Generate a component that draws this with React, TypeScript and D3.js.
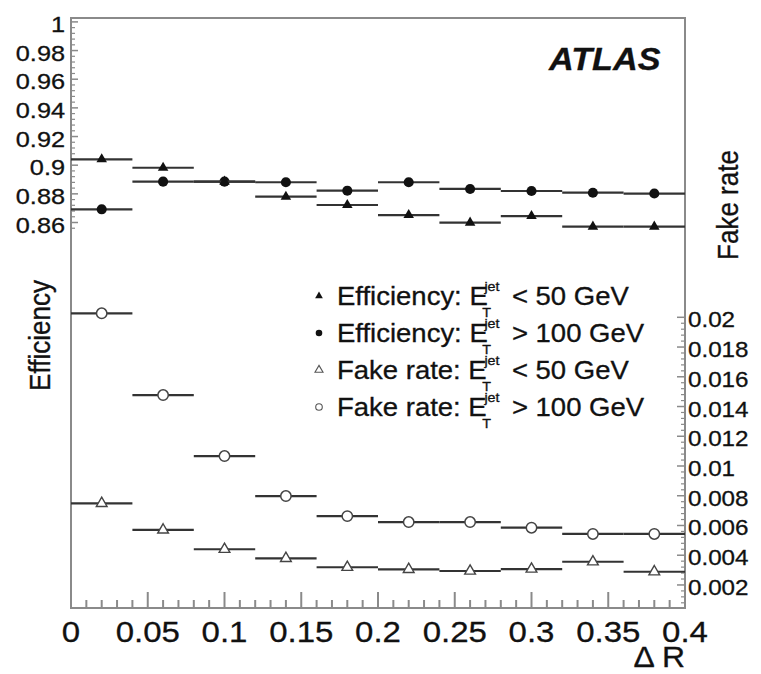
import React from 'react';
import * as d3 from 'd3';

// ---- data ----
const binCenters = [0.02, 0.06, 0.1, 0.14, 0.18, 0.22, 0.26, 0.3, 0.34, 0.38];
const binHalfWidth = 0.02;
const effLowEt = [0.9041, 0.8982, 0.8885, 0.878, 0.8722, 0.8652, 0.8599, 0.8645, 0.8571, 0.8571];
const effHighEt = [0.8692, 0.8885, 0.8885, 0.8881, 0.8822, 0.8881, 0.8834, 0.882, 0.8808, 0.8802];
const fakeLowEt = [0.00749, 0.0057, 0.0044, 0.00379, 0.00319, 0.00305, 0.00294, 0.00307, 0.00356, 0.00289];
const fakeHighEt = [0.02027, 0.01477, 0.01067, 0.00798, 0.00663, 0.00623, 0.00623, 0.00585, 0.00543, 0.00543];

const xTicks = [0, 0.05, 0.1, 0.15, 0.2, 0.25, 0.3, 0.35, 0.4];
const xTickLabels = ['0', '0.05', '0.1', '0.15', '0.2', '0.25', '0.3', '0.35', '0.4'];
const effTicks = [0.86, 0.88, 0.9, 0.92, 0.94, 0.96, 0.98, 1];
const effTickLabels = ['0.86', '0.88', '0.9', '0.92', '0.94', '0.96', '0.98', '1'];
const fakeTicks = [0.002, 0.004, 0.006, 0.008, 0.01, 0.012, 0.014, 0.016, 0.018, 0.02];
const fakeTickLabels = ['0.002', '0.004', '0.006', '0.008', '0.01', '0.012', '0.014', '0.016', '0.018', '0.02'];

const legendLabels = ['Efficiency: E', 'Efficiency: E', 'Fake rate: E', 'Fake rate: E'];
const legendTails = ['< 50 GeV', '> 100 GeV', '< 50 GeV', '> 100 GeV'];

// ---- layout ----
const W = 761, H = 674;
const L = 71, R = 685, T = 18, B = 608;
const FONT = "'Liberation Sans', Arial, Helvetica, sans-serif";
const AX = '#8a8a8a';
const BAR = '#333';

const x = d3.scaleLinear().domain([0, 0.4]).range([L, R]);
const yEff = d3.scaleLinear().domain([0.86, 1.0]).range([222.5, 21.9]);
const yFake = d3.scaleLinear().domain([0, 0.02]).range([614.7, 317.3]);

const tri = (area: number) => d3.symbol().type(d3.symbolTriangle).size(area)() as string;
const circ = (area: number) => d3.symbol().type(d3.symbolCircle).size(area)() as string;

function Txt(props: { x: number; y: number; size: number; anchor?: string; sx?: number; rot?: number; weight?: string; italic?: boolean; children: React.ReactNode }) {
  const { x: px, y: py, size, anchor = 'start', sx = 1.1, rot = 0, weight = 'normal', italic = false, children } = props;
  return (
    <g transform={`translate(${px},${py}) scale(${sx},1) rotate(${rot})`}>
      <text x={0} y={0} fontFamily={FONT} fontSize={size} textAnchor={anchor} fontWeight={weight} fontStyle={italic ? 'italic' : 'normal'} fill="#111" stroke="#111" strokeWidth={0.3}>
        {children}
      </text>
    </g>
  );
}

function Series(props: { vals: number[]; y: (v: number) => number; kind: 'ftri' | 'fcirc' | 'otri' | 'ocirc' }) {
  const { vals, y, kind } = props;
  return (
    <g>
      {vals.map((v, i) => {
        const cx = x(binCenters[i]);
        const cy = y(v);
        const x0 = x(binCenters[i] - binHalfWidth);
        const x1 = x(binCenters[i] + binHalfWidth);
        let mark: React.ReactNode;
        if (kind === 'ftri') mark = <path d={tri(48)} transform={`translate(${cx},${cy})`} fill="#111" />;
        else if (kind === 'fcirc') mark = <path d={circ(80)} transform={`translate(${cx},${cy})`} fill="#111" />;
        else if (kind === 'otri') mark = <path d={tri(50)} transform={`translate(${cx},${cy})`} fill="#fff" stroke="#444" strokeWidth={1.4} />;
        else mark = <path d={circ(85)} transform={`translate(${cx},${cy})`} fill="#fff" stroke="#444" strokeWidth={1.5} />;
        return (
          <g key={i}>
            <line x1={x0} x2={x1} y1={cy} y2={cy} stroke={BAR} strokeWidth={2.2} />
            {mark}
          </g>
        );
      })}
    </g>
  );
}

export default function App() {
  const xMinor = d3.range(0, 41).map((i) => i / 100).filter((v) => Math.round(v * 100) % 5 !== 0);
  const effMinor = d3.range(214, 251).map((i) => i * 0.004).filter((v) => v >= 0.855 && v <= 1.001 && Math.round(v * 1000) % 20 !== 0);
  const fakeMinor = d3.range(2, 51).map((i) => i * 0.0004).filter((v) => v <= 0.02001 && Math.round(v * 10000) % 20 !== 0);

  const legendY = [305, 342, 379, 416];
  const legendMarks = [
    <path d={tri(26)} fill="#111" />,
    <path d={circ(34)} fill="#111" />,
    <path d={tri(28)} fill="#fff" stroke="#555" strokeWidth={1.1} />,
    <path d={circ(34)} fill="#fff" stroke="#555" strokeWidth={1.1} />,
  ];

  return (
    <svg width={W} height={H} style={{ position: 'absolute', left: 0, top: 0, background: '#fff' }}>
      <rect x={0} y={0} width={W} height={H} fill="#fff" />
      {/* frame */}
      <rect x={L} y={T} width={R - L} height={B - T} fill="none" stroke={AX} strokeWidth={2} />

      {/* x ticks */}
      {xTicks.map((v) => (
        <line key={'xt' + v} x1={x(v)} x2={x(v)} y1={B} y2={B - 16} stroke={AX} strokeWidth={2} />
      ))}
      {xMinor.map((v) => (
        <line key={'xm' + v} x1={x(v)} x2={x(v)} y1={B} y2={B - 8} stroke={AX} strokeWidth={2} />
      ))}
      {xTicks.map((v, i) => (
        <Txt key={'xl' + v} x={x(v)} y={642} size={30} anchor="middle" sx={1.1}>{xTickLabels[i]}</Txt>
      ))}

      {/* left efficiency axis */}
      {effTicks.map((v) => (
        <line key={'et' + v} x1={L} x2={L + 7} y1={yEff(v)} y2={yEff(v)} stroke={AX} strokeWidth={1.5} />
      ))}
      {effMinor.map((v) => (
        <line key={'em' + v} x1={L} x2={L + 4} y1={yEff(v)} y2={yEff(v)} stroke={AX} strokeWidth={1.2} />
      ))}
      {effTicks.map((v, i) => (
        <Txt key={'el' + v} x={65} y={yEff(v) + 10} size={22} anchor="end" sx={1.15}>{effTickLabels[i]}</Txt>
      ))}

      {/* right fake-rate axis */}
      {fakeTicks.map((v) => (
        <line key={'ft' + v} x1={R} x2={R - 8} y1={yFake(v)} y2={yFake(v)} stroke={AX} strokeWidth={1.5} />
      ))}
      {fakeMinor.map((v) => (
        <line key={'fm' + v} x1={R} x2={R - 4} y1={yFake(v)} y2={yFake(v)} stroke={AX} strokeWidth={1.2} />
      ))}
      {fakeTicks.map((v, i) => (
        <Txt key={'fl' + v} x={688} y={yFake(v) + 10} size={22} anchor="start" sx={1.1}>{fakeTickLabels[i]}</Txt>
      ))}

      {/* axis titles */}
      <Txt x={49.5} y={335.5} size={26} anchor="middle" rot={-90} sx={1.12}>Efficiency</Txt>
      <Txt x={738} y={205} size={26} anchor="middle" rot={-90} sx={1.12}>Fake rate</Txt>
      <Txt x={685} y={667} size={29} anchor="end" sx={1.1}>Δ R</Txt>

      {/* ATLAS */}
      <Txt x={549} y={70} size={32} anchor="start" sx={1.07} weight="bold" italic>ATLAS</Txt>

      {/* series */}
      <Series vals={effHighEt} y={yEff} kind="fcirc" />
      <Series vals={effLowEt} y={yEff} kind="ftri" />
      <Series vals={fakeHighEt} y={yFake} kind="ocirc" />
      <Series vals={fakeLowEt} y={yFake} kind="otri" />

      {/* legend */}
      {legendY.map((ly, i) => (
        <g key={'lg' + i}>
          <g transform={`translate(319,${ly - 9})`}>{legendMarks[i]}</g>
          <g transform={`translate(337,${ly}) scale(1.1,1)`}>
            <text fontFamily={FONT} fontSize={25} fill="#111" stroke="#111" strokeWidth={0.3}>
              <tspan x={0} y={0}>{legendLabels[i]}</tspan>
              <tspan x={134} y={-14} fontSize={13}>jet</tspan>
              <tspan x={132} y={12} fontSize={13}>T</tspan>
              <tspan x={159} y={0} fontSize={25}>{legendTails[i]}</tspan>
            </text>
          </g>
        </g>
      ))}
    </svg>
  );
}
